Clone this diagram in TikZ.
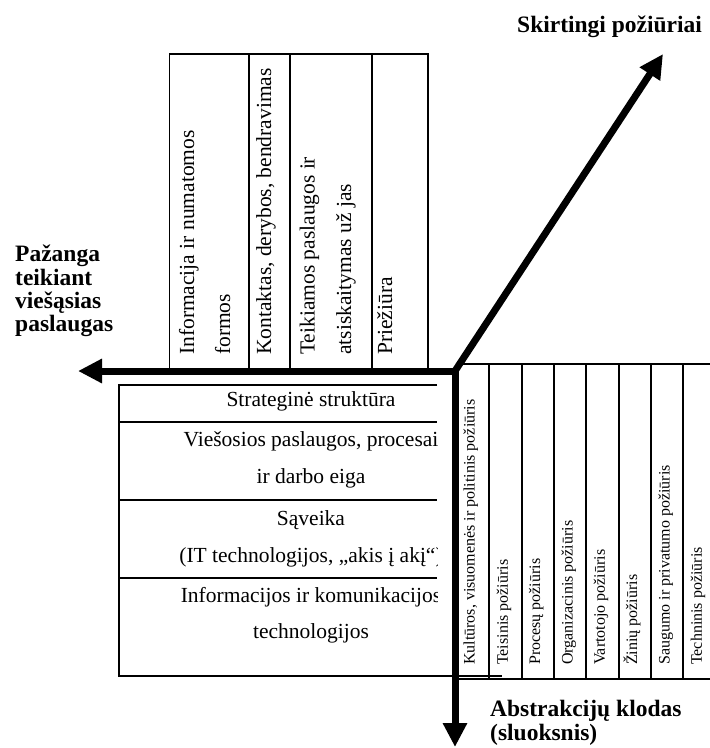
\documentclass[tikz,border=0pt]{standalone}
\usepackage{fontspec}
\setmainfont{Liberation Serif}
\usetikzlibrary{arrows.meta}
\begin{document}
\begin{tikzpicture}[x=1pt,y=-1pt,
  axis/.style={line width=7pt, line join=miter},
  grid/.style={line width=1.8pt},
  bigtip/.tip={Triangle[length=24pt,width=23pt]},
  label/.style={anchor=base west, inner sep=0pt, font=\bfseries\fontsize{23.5}{23.5}\selectfont},
  rowtext/.style={anchor=base, inner sep=0pt, font=\fontsize{21.5}{21.5}\selectfont},
  coltext/.style={rotate=90, anchor=base west, inner sep=0pt, font=\fontsize{21.5}{21.5}\selectfont},
  sidetext/.style={rotate=90, anchor=base west, inner sep=0pt, font=\fontsize{16}{16}\selectfont}]
\useasboundingbox (0,0) rectangle (710,748);

% upper block of service stages
\draw[grid] (169.5,368) -- (169.5,54) -- (428,54) -- (428,368);
\foreach \x in {249,290,372} \draw[grid] (\x,54) -- (\x,368);
\node[coltext] (u1a) at (194,355) {Informacija ir numatomos};
\node[coltext] (u1b) at (230,355) {formos};
\node[coltext] (u2)  at (271,355) {Kontaktas, derybos, bendravimas};
\node[coltext] (u3a) at (314.5,355) {Teikiamos paslaugos ir};
\node[coltext] (u3b) at (351,355) {atsiskaitymas už jas};
\node[coltext] (u4)  at (392,355) {Priežiūra};

% layered block on the lower left
\draw[grid] (437,385) -- (119,385) -- (119,676) -- (502,676);
\foreach \y in {422,500,578} \draw[grid] (119,\y) -- (437,\y);
\begin{scope}
  \clip (119,385) rectangle (437,676);
  \node[rowtext] (l1)  at (311,406) {Strateginė struktūra};
  \node[rowtext] (l2a) at (311,446) {Viešosios paslaugos, procesai};
  \node[rowtext] (l2b) at (311,483) {ir darbo eiga};
  \node[rowtext] (l3a) at (311,525) {Sąveika};
  \node[rowtext] (l3b) at (311,562) {(IT technologijos, „akis į akį“)};
  \node[rowtext] (l4a) at (311,602) {Informacijos ir komunikacijos};
  \node[rowtext] (l4b) at (311,638) {technologijos};
\end{scope}

% viewpoint columns on the lower right
\draw[grid] (456,364) -- (712,364);
\draw[grid] (456,679) -- (712,679);
\foreach \x in {489.3,521.7,554,586.3,618.7,651,683.3} \draw[grid] (\x,364) -- (\x,679);
\foreach \x/\t [count=\i] in {474.5/{Kultūros, visuomenės ir politinis požiūris},
    507.8/{Teisinis požiūris}, 540.2/{Procesų požiūris},
    572.5/{Organizacinis požiūris}, 604.8/{Vartotojo požiūris},
    637.2/{Žinių požiūris}, 669.5/{Saugumo ir privatumo požiūris},
    701.8/{Techninis požiūris}}
  \node[sidetext] (r\i) at (\x,665) {\t};

% the three axes
\coordinate (o)  at (455,371);
\coordinate (w)  at (78,371);
\coordinate (s)  at (455,747);
\coordinate (ne) at (663,54);
\draw[axis, bigtip-bigtip] (w) -- (o) -- (s);
\draw[axis, -bigtip] (o) -- (ne);

% axis titles
\node[label] (t1) at (517,32) {Skirtingi požiūriai};
\node[label] (t2a) at (15,261.7) {Pažanga};
\node[label] (t2b) at (15,285) {teikiant};
\node[label] (t2c) at (15,308.3) {viešąsias};
\node[label] (t2d) at (15,331.7) {paslaugas};
\node[label] (t3a) at (490,716.7) {Abstrakcijų klodas};
\node[label] (t3b) at (490,740) {(sluoksnis)};
\end{tikzpicture}
\end{document}
